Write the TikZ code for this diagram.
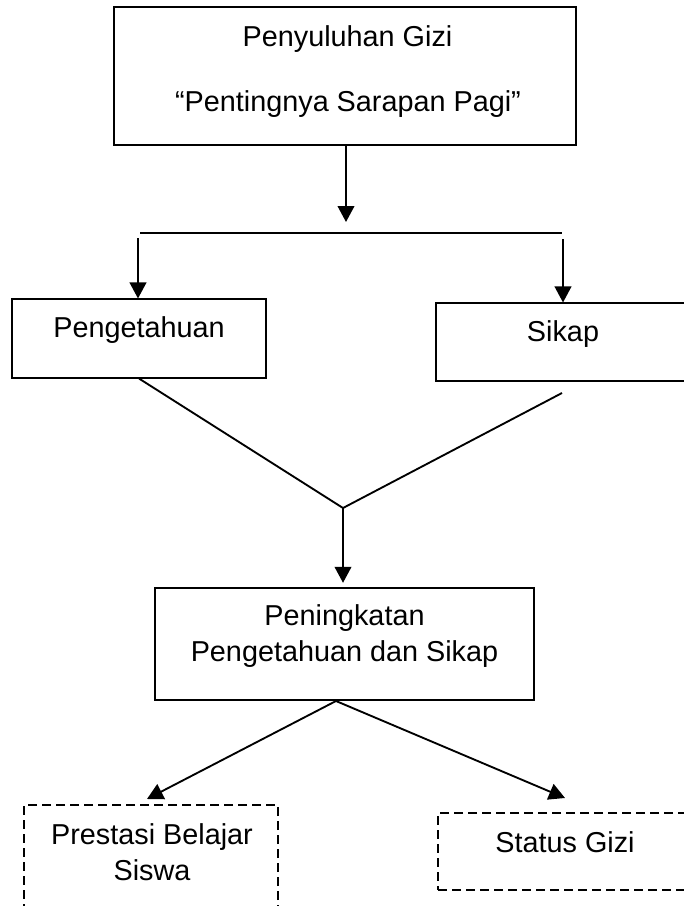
\documentclass[tikz,border=0pt]{standalone}
\usepackage{fontspec}
\setmainfont{Liberation Sans}
\usetikzlibrary{arrows.meta,calc}

\begin{document}
\begin{tikzpicture}[x=0.75pt,y=-0.75pt,
    box/.style={draw, line width=0.8pt, inner sep=0pt},
    dashbox/.style={box, dash pattern=on 7pt off 3.5pt},
    teks/.style={anchor=base, font=\fontsize{21.6}{27}\selectfont, align=center, inner sep=0pt},
    garis/.style={line width=1.4pt},
    panah/.style={garis, -{Triangle[length=12pt,width=12.5pt]}}]
  \useasboundingbox (0,0) rectangle (683,906);

  % kotak-kotak
  \node[box, minimum width=346.5pt, minimum height=103.5pt] (judul) at (345,76) {};
  \node[box, minimum width=190.5pt, minimum height=59.25pt] (peng) at (139,338.5) {};
  \node[box, minimum width=190.5pt, minimum height=58.5pt] (sikap) at (563,342) {};
  \node[box, minimum width=284.25pt, minimum height=84pt] (naik) at (344.5,644) {};
  \node[dashbox, minimum width=190.5pt, minimum height=80.25pt] (prestasi) at (151,858.5) {};
  \node[dashbox, minimum width=190.5pt, minimum height=57.75pt] (status) at (565,851.5) {};

  % teks di dalam kotak (base = baris terakhir)
  \node[teks] (tjudul1) at (347.5,47) {Penyuluhan Gizi};
  \node[teks] (tjudul2) at (348,111) {“Pentingnya Sarapan Pagi”};
  \node[teks] (tpeng) at (139,337.5) {Pengetahuan};
  \node[teks] (tsikap) at (563,341) {Sikap};
  \node[teks] (tnaik) at (344.5,661.5) {Peningkatan\\Pengetahuan dan Sikap};
  \node[teks] (tprestasi) at (152,880.5) {Prestasi Belajar\\Siswa};
  \node[teks] (tstatus) at (565,852) {Status Gizi};

  % titik bantu
  \coordinate (t1) at (346,222);
  \coordinate (hl) at (140,233);
  \coordinate (hr) at (562,233);
  \coordinate (al) at (138,238);
  \coordinate (ar) at (563,239);
  \coordinate (vr) at (562,393);
  \coordinate (v) at (343,508);
  \coordinate (b) at (336,701);
  \coordinate (ujungP) at (147,799);
  \coordinate (ujungS) at (565,798);

  % garis dan panah
  \draw[panah] (judul.south -| t1) -- (t1);
  \draw[garis] (hl) -- (hr);
  \draw[panah] (al) -- (al |- peng.north);
  \draw[panah] (ar) -- (ar |- sikap.north);
  \draw[garis] (peng.south) -- (v) -- (vr);
  \draw[panah, shorten >=3.5pt] (v) -- (v |- naik.north);
  \draw[panah] (b) -- (ujungP);
  \draw[panah] (b) -- (ujungS);
\end{tikzpicture}
\end{document}
